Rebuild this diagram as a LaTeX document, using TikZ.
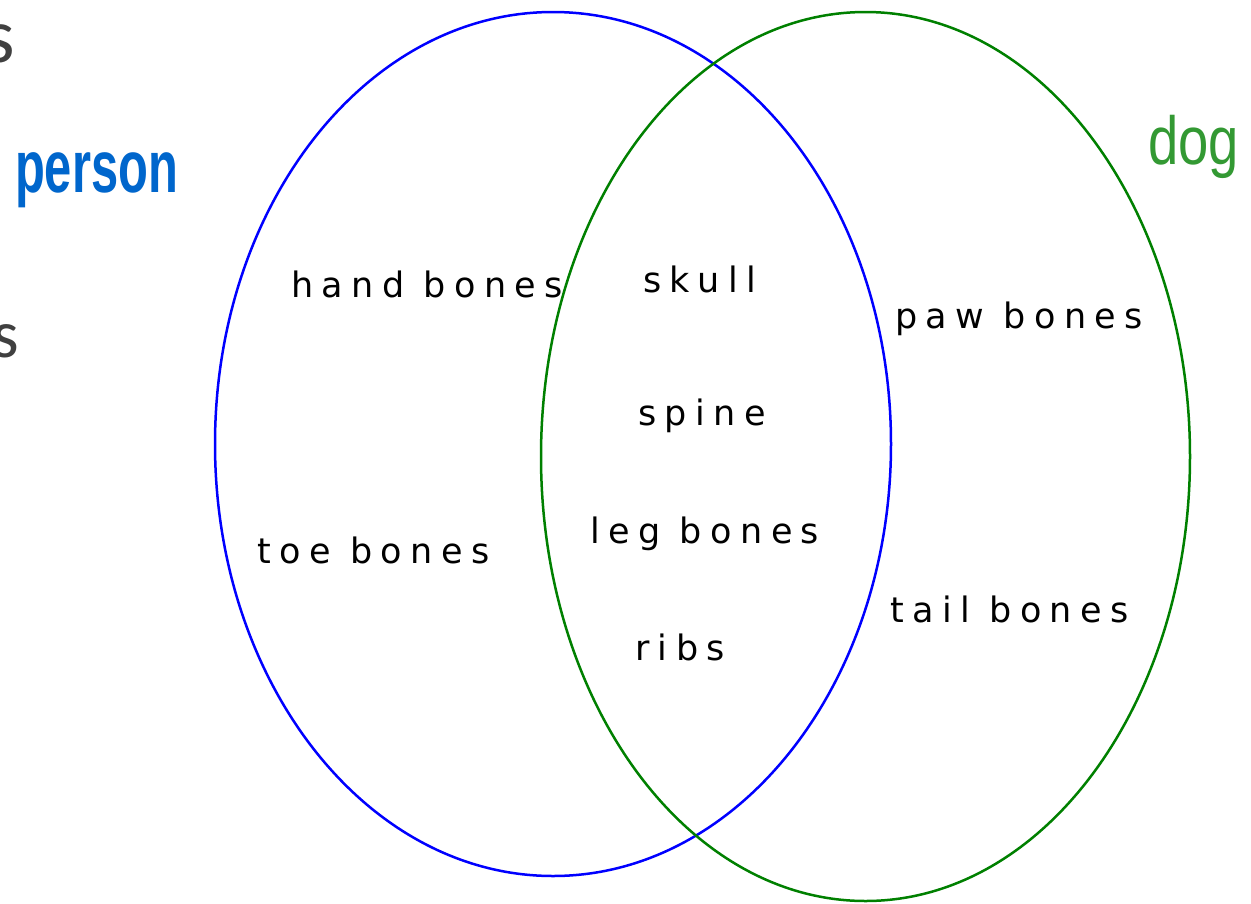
\documentclass[tikz,border=0pt]{standalone}
\usepackage{fontspec}
\setmainfont{DejaVu Sans}
\newfontfamily\handfont[LetterSpace=24]{DejaVu Sans}
\newfontfamily\labfont{Liberation Sans}
\newfontfamily\grayfont{Carlito}
\definecolor{personblue}{HTML}{0066CC}
\definecolor{doggreen}{HTML}{339933}
\definecolor{ringgreen}{HTML}{008000}
\definecolor{graytext}{HTML}{404040}
\begin{document}
\begin{tikzpicture}[x=1pt,y=-1pt,
  hand/.style={inner sep=0pt,anchor=base west,font=\handfont\fontsize{35}{35}\selectfont},
  ring/.style={line width=2.5pt}]
\useasboundingbox (0,0) rectangle (1251,903);
\fill[white] (0,0) rectangle (1251,903);
% circles
\draw[ring,blue] (553,444) ellipse [x radius=338pt, y radius=432pt];
\draw[ring,ringgreen] (865.5,456.5) ellipse [x radius=324.5pt, y radius=444.5pt];
% cut-off gray letters
\node[inner sep=0pt,anchor=base east,text=graytext,font=\grayfont\fontsize{78}{78}\selectfont] (s1) at (15,62) {s};
\node[inner sep=0pt,anchor=base east,text=graytext,font=\grayfont\fontsize{68}{68}\selectfont] (s2) at (19,357) {s};
% set labels
\node[inner sep=0pt,anchor=base west,text=personblue,font=\labfont\bfseries\fontsize{74}{74}\selectfont,xscale=0.66,transform shape] (person) at (15,192) {person};
\node[inner sep=0pt,anchor=base west,text=doggreen,font=\labfont\fontsize{68}{68}\selectfont,xscale=0.8,transform shape] (dog) at (1148,164) {dog};
% items
\node[hand] (hand) at (291,297) {hand bones};
\node[hand] (skull) at (643,292) {skull};
\node[hand] (spine) at (638,425) {spine};
\node[hand] (leg) at (590,543) {leg bones};
\node[hand] (ribs) at (635,660) {ribs};
\node[hand] (toe) at (257,563) {toe bones};
\node[hand] (paw) at (895,328) {paw bones};
\node[hand] (tail) at (890,622) {tail bones};
\end{tikzpicture}
\end{document}
